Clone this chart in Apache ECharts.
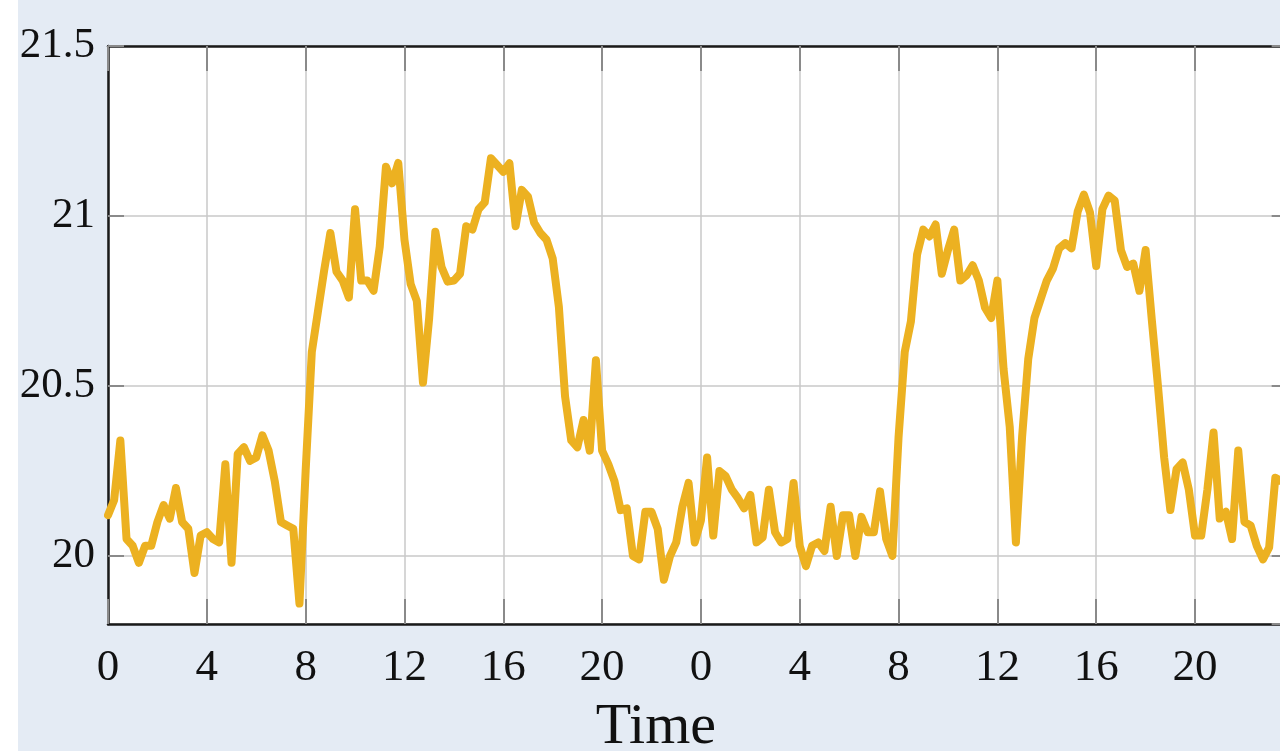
<!DOCTYPE html>
<html>
<head>
<meta charset="utf-8">
<title>Temperature over time</title>
<script src="https://cdn.jsdelivr.net/npm/echarts@6/dist/echarts.min.js"></script>
<style>
  html, body { margin: 0; padding: 0; background: #ffffff; overflow: hidden; }
  #chart { position: absolute; left: 18px; top: 0; width: 1282px; height: 751px; }
</style>
</head>
<body>
<div id="chart"></div>
<script>
// samples every 15 minutes, two days
const STEP_HOURS = 0.25;

const day1Values = [
  20.12, 20.165, 20.34, 20.05, 20.03, 19.98, 20.03, 20.03, 20.10, 20.15,
  20.11, 20.20, 20.10, 20.08, 19.95, 20.06, 20.07, 20.05, 20.04, 20.27,
  19.98, 20.30, 20.32, 20.28, 20.29, 20.355, 20.31, 20.22, 20.10, 20.09,
  20.08, 19.86, 20.25, 20.60, 20.72, 20.84, 20.95, 20.836, 20.81, 20.76,
  21.02, 20.81, 20.81, 20.78, 20.91, 21.145, 21.096, 21.156, 20.93, 20.80,
  20.75, 20.51, 20.70, 20.954, 20.85, 20.807, 20.81, 20.83, 20.97, 20.96,
  21.02, 21.04, 21.17, 21.15, 21.13, 21.155, 20.97, 21.077, 21.057, 20.98,
  20.95, 20.93, 20.875, 20.733, 20.47, 20.34, 20.32, 20.40, 20.31, 20.576,
  20.31, 20.27, 20.22, 20.135, 20.14, 20.0, 19.99, 20.13, 20.13, 20.08,
  19.93, 20.0, 20.04, 20.145, 20.215, 20.04
];

const day2Values = [
  20.105, 20.29, 20.06, 20.25,
  20.235, 20.195, 20.17, 20.14, 20.18, 20.04, 20.055, 20.195, 20.07, 20.04,
  20.05, 20.215, 20.03, 19.97, 20.03, 20.04, 20.015, 20.145, 20.0, 20.12,
  20.12, 20.0, 20.115, 20.07, 20.07, 20.19, 20.05, 20.0, 20.35, 20.6,
  20.69, 20.887, 20.96, 20.94, 20.975, 20.83, 20.9, 20.96, 20.81, 20.825,
  20.855, 20.81, 20.73, 20.7, 20.81, 20.55, 20.38, 20.04, 20.35, 20.58,
  20.7, 20.755, 20.81, 20.845, 20.905, 20.92, 20.905, 21.013, 21.063, 21.01,
  20.853, 21.02, 21.06, 21.045, 20.9, 20.85, 20.86, 20.78, 20.9, 20.695,
  20.5, 20.29, 20.135, 20.255, 20.275, 20.195, 20.06, 20.06, 20.195, 20.363,
  20.11, 20.13, 20.05, 20.31, 20.1, 20.09, 20.03, 19.99, 20.025, 20.23,
  20.22
];

const X_MAX = 47.75;   // hours shown (plot runs past the window edge)
const Y_MIN = 19.8;
const Y_MAX = 21.5;

const values = day1Values.concat(day2Values);
const seriesData = values.map((v, i) => [i * STEP_HOURS, v]);

const FONT = "'Liberation Serif', 'DejaVu Serif', serif";
const frame = { show: true, onZero: false, lineStyle: { color: '#1a1a1a', width: 2.5 } };
const xTicks = { show: true, inside: true, length: 25, lineStyle: { color: '#8a8a8a', width: 2 } };
const yTicks = { show: true, inside: true, length: 16, lineStyle: { color: '#8a8a8a', width: 2 } };

const chart = echarts.init(document.getElementById('chart'));

const option = {
  backgroundColor: '#e4ebf4',
  animation: false,
  grid: {
    left: 90,
    top: 46,
    width: X_MAX * 24.705,
    height: 578,
    containLabel: false,
    outerBoundsMode: 'none',
    show: true,
    backgroundColor: '#ffffff',
    borderWidth: 0
  },
  xAxis: [
    {
      type: 'value',
      min: 0,
      max: X_MAX,
      interval: 4,
      position: 'bottom',
      name: 'Time',
      nameLocation: 'middle',
      nameGap: 75,
      nameTextStyle: {
        fontFamily: FONT,
        fontSize: 58,
        color: '#111',
        padding: [0, 84, 0, 0]
      },
      axisLine: frame,
      axisTick: xTicks,
      axisLabel: {
        showMaxLabel: false,
        margin: 22,
        fontFamily: FONT,
        fontSize: 45,
        color: '#111',
        formatter: (v) => String(v % 24)
      },
      splitLine: { show: true, lineStyle: { color: '#c8c8c8', width: 1.5 } }
    },
    {
      type: 'value',
      min: 0,
      max: X_MAX,
      interval: 4,
      position: 'top',
      axisLine: frame,
      axisTick: xTicks,
      axisLabel: { show: false },
      splitLine: { show: false }
    }
  ],
  yAxis: [
    {
      type: 'value',
      min: Y_MIN,
      max: Y_MAX,
      splitNumber: 3,
      position: 'left',
      axisLine: frame,
      axisTick: yTicks,
      axisLabel: {
        showMinLabel: false,
        margin: 13,
        fontFamily: FONT,
        fontSize: 43,
        color: '#111',
        formatter: (v) => String(v)
      },
      splitLine: { show: true, lineStyle: { color: '#c8c8c8', width: 1.5 } }
    },
    {
      type: 'value',
      min: Y_MIN,
      max: Y_MAX,
      splitNumber: 3,
      position: 'right',
      axisLine: frame,
      axisTick: yTicks,
      axisLabel: { show: false },
      splitLine: { show: false }
    }
  ],
  series: [
    {
      name: 'Temperature',
      type: 'line',
      data: seriesData,
      showSymbol: false,
      symbol: 'none',
      lineStyle: {
        color: '#ecb121',
        width: 8,
        join: 'round',
        cap: 'round'
      }
    }
  ]
};

chart.setOption(option);
</script>
</body>
</html>
